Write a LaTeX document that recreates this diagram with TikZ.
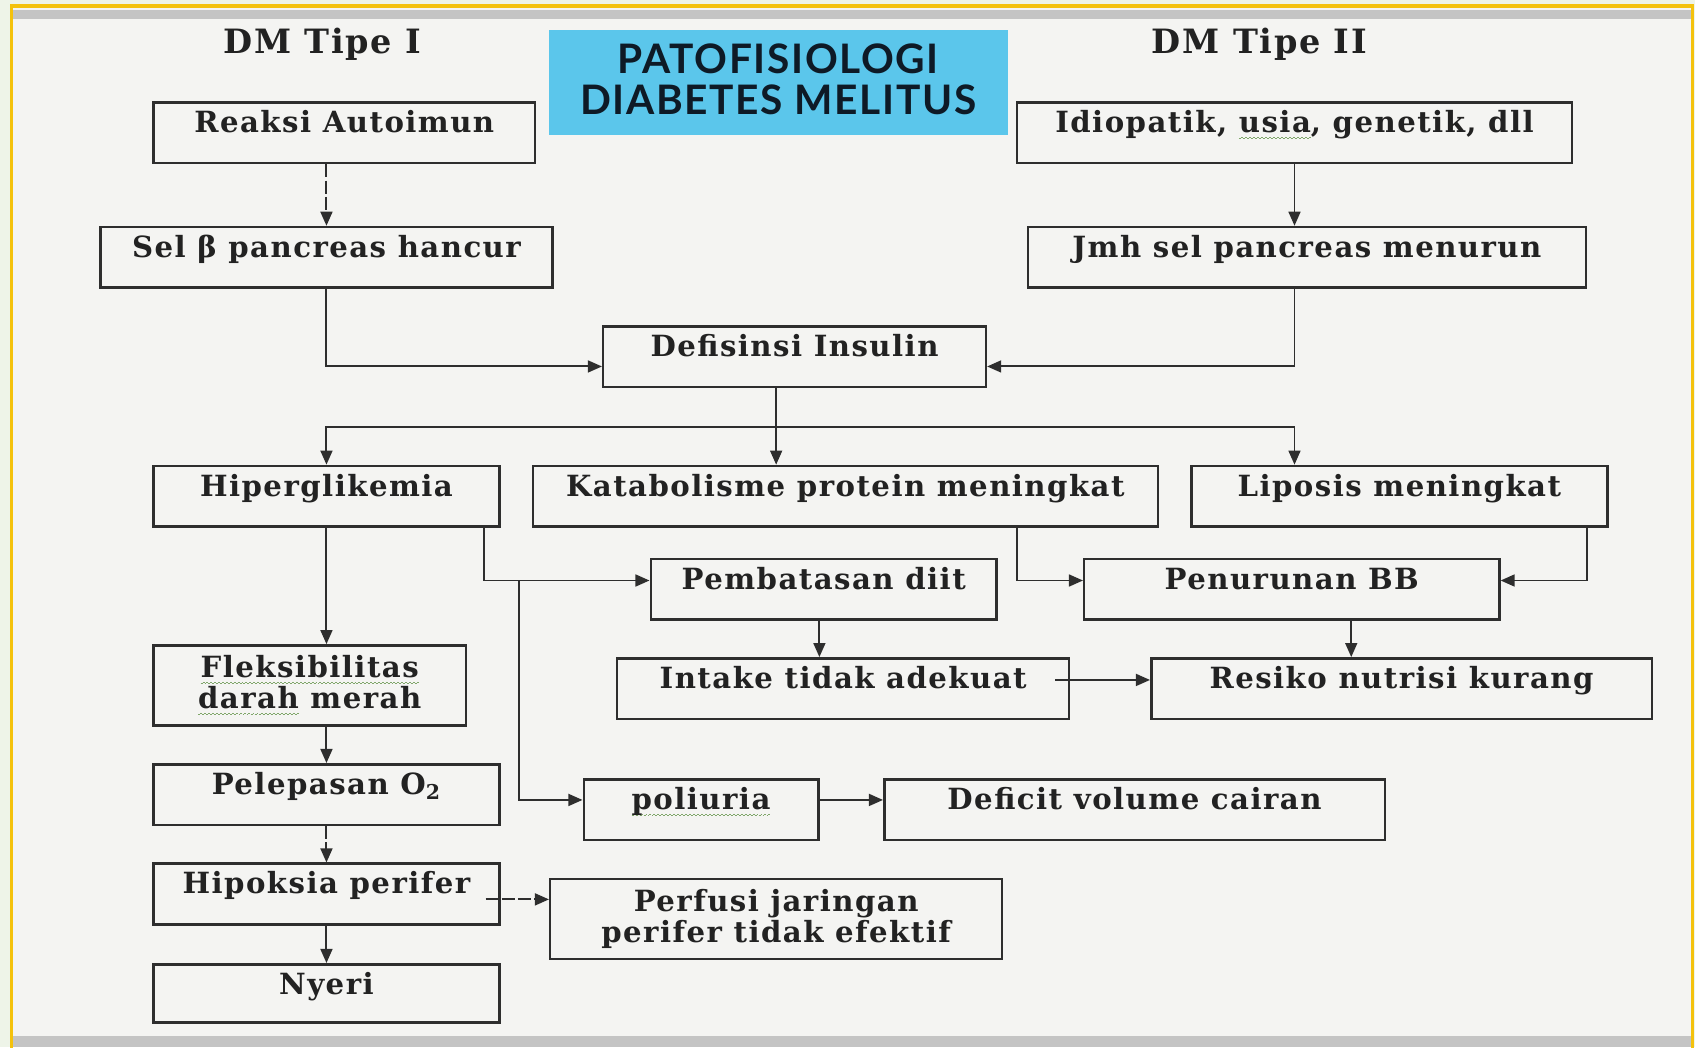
\documentclass[tikz,border=0pt]{standalone}
\usepackage{fontspec}
\usetikzlibrary{arrows.meta,calc}
\newfontfamily\boxf{DejaVu Serif}[LetterSpace=5]
\newfontfamily\titlef{Lato}[LetterSpace=4]
\definecolor{outerbg}{HTML}{EEF4E8}
\definecolor{innerbg}{HTML}{F4F4F2}
\definecolor{bandc}{HTML}{C4C4C4}
\definecolor{goldc}{HTML}{F4C20D}
\definecolor{titlefill}{HTML}{5BC6EB}
\definecolor{titletxt}{HTML}{0E1A26}
\definecolor{linec}{HTML}{2E2E2E}
\definecolor{txtc}{HTML}{222222}
\definecolor{squigc}{HTML}{7FA66A}
\newcommand\squig[1]{\setbox0=\hbox{#1}\leavevmode\rlap{\lower3pt\hbox to \wd0{\color{squigc}\xleaders\hbox{\rule{0.9pt}{0.45pt}\rule[0.6pt]{0.9pt}{0.45pt}}\hfil}}\box0\relax}
\tikzset{
  boxfont/.style={font=\boxf\bfseries\fontsize{13.5pt}{14.5pt}\selectfont, text=txtc},
  box/.style={boxfont, draw=linec, line width=1.15pt, inner sep=0pt,
    text height=14pt, text depth=14pt},
  boxtwo/.style={boxfont, draw=linec, line width=1.15pt, inner sep=0pt,
    minimum height=37pt, align=center},
  conn/.style={draw=linec, line width=0.9pt, -{Triangle[length=6.5pt,width=5.5pt]}},
  brk/.style={dash pattern=on 6pt off 1.5pt},
  headfont/.style={font=\boxf\bfseries\fontsize{15.5pt}{17pt}\selectfont, text=txtc, inner sep=0pt},
  titlebox/.style={fill=titlefill, inner sep=0pt, minimum width=212pt, minimum height=48.5pt},
  titletext/.style={font=\titlef\bfseries\fontsize{18.8pt}{19pt}\selectfont, text=titletxt, align=center, inner sep=0pt}
}
\begin{document}
\begin{tikzpicture}[x=0.5pt,y=-0.5pt]
\useasboundingbox (0,0) rectangle (1568,969);
% frame
\fill[outerbg] (0,0) rectangle (1568,969);
\fill[innerbg] (11,7) rectangle (1564,969);
\fill[bandc] (11,9) rectangle (1564,17.5);
\fill[bandc] (11,958) rectangle (1564,969);
\draw[goldc, line width=1.5pt] (10.5,980) -- (10.5,5.5) -- (1565.5,5.5) -- (1565.5,980);

% headings
\node[headfont] (dm1) at (298,41) {DM Tipe I};
\node[headfont] (dm2) at (1165,41) {DM Tipe II};
\node[titlebox] (title) at (720,76.5) {};
\node[titletext] (titlet) at ([yshift=1.75pt]title.center) {PATOFISIOLOGI\\DIABETES MELITUS};

% boxes
\node[box, minimum width=176.5pt] (reaksi) at (318.5,123) {Reaksi Autoimun};
\node[box, minimum width=256.5pt] (idio) at (1197.5,123) {Idiopatik, \squig{usia}, genetik, dll};
\node[box, minimum width=209pt] (sel) at (302,238) {Sel β pancreas hancur};
\node[box, minimum width=258pt] (jmh) at (1209,238) {Jmh sel pancreas menurun};
\node[box, minimum width=177pt] (defis) at (735,330) {Defisinsi Insulin};
\node[box, minimum width=160pt] (hiper) at (302,459) {Hiperglikemia};
\node[box, minimum width=289pt] (katab) at (782,459) {Katabolisme protein meningkat};
\node[box, minimum width=192.5pt] (lipos) at (1294.5,459) {Liposis meningkat};
\node[box, minimum width=160pt] (pemb) at (762,545) {Pembatasan diit};
\node[box, minimum width=192pt] (penur) at (1195,545) {Penurunan BB};
\node[box, minimum width=209pt] (intake) at (780,637) {Intake tidak adekuat};
\node[box, minimum width=231.5pt] (resiko) at (1296.5,637) {Resiko nutrisi kurang};
\node[boxtwo, minimum width=144.5pt] (fleks) at (286.5,634) {\squig{Fleksibilitas}\\\squig{darah} merah};
\node[box, minimum width=160pt] (pelep) at (302,735) {Pelepasan O\textsubscript{2}};
\node[box, minimum width=108.5pt] (poli) at (648.5,749) {\squig{poliuria}};
\node[box, minimum width=231.5pt] (defic) at (1049.5,749) {Deficit volume cairan};
\node[box, minimum width=160pt] (hipok) at (302,827) {Hipoksia perifer};
\node[boxtwo, minimum width=209pt] (perf) at (718,850) {Perfusi jaringan\\perifer tidak efektif};
\node[box, minimum width=160pt, text height=14pt, text depth=13pt] (nyeri) at (302,919) {Nyeri};

% connectors
\draw[conn, brk] (sel.north |- reaksi.south) -- (sel.north);
\draw[conn] (idio.south) -- (idio.south |- jmh.north);
\draw[conn] (sel.south) |- ([yshift=-4.5pt]defis.west);
\draw[conn] (idio.south |- jmh.south) |- ([yshift=-4.5pt]defis.east);
\coordinate (j1) at (718,395);
\draw[conn] (defis.south -| j1) -- (katab.north -| j1);
\draw[conn] (j1) -| (hiper.north);
\draw[conn] (j1) -| (idio.south |- lipos.north);
\draw[conn] (hiper.south) -- (hiper.south |- fleks.north);
\draw[conn] ([xshift=-7.5pt]hiper.south east) |- ([yshift=4pt]pemb.west);
\coordinate (h2) at (480,537);
\draw[conn] (h2) |- ([yshift=4.5pt]poli.west);
\draw[conn] ([xshift=-65.5pt]katab.south east) |- ([yshift=4pt]penur.west);
\draw[conn] ([xshift=-10pt]lipos.south east) |- ([yshift=4pt]penur.east);
\draw[conn] ([xshift=-2pt]pemb.south) -- ([xshift=-2pt]pemb.south |- intake.north);
\draw[conn] ([xshift=-7pt,yshift=4pt]intake.east) -- ([yshift=4pt]intake.east -| resiko.west);
\draw[conn] ([xshift=27.5pt]penur.south) -- ([xshift=27.5pt]penur.south |- resiko.north);
\draw[conn] (hiper.south |- fleks.south) -- (hiper.south |- pelep.north);
\draw[conn, brk] (pelep.south) -- (hipok.north);
\draw[conn] (hipok.south) -- (nyeri.north);
\draw[conn] ([yshift=4.5pt]poli.east) -- ([yshift=4.5pt]poli.east -| defic.west);
\draw[conn, brk] ([xshift=-7pt,yshift=-2.5pt]hipok.east) -- ([yshift=-2.5pt]hipok.east -| perf.west);
\end{tikzpicture}
\end{document}
